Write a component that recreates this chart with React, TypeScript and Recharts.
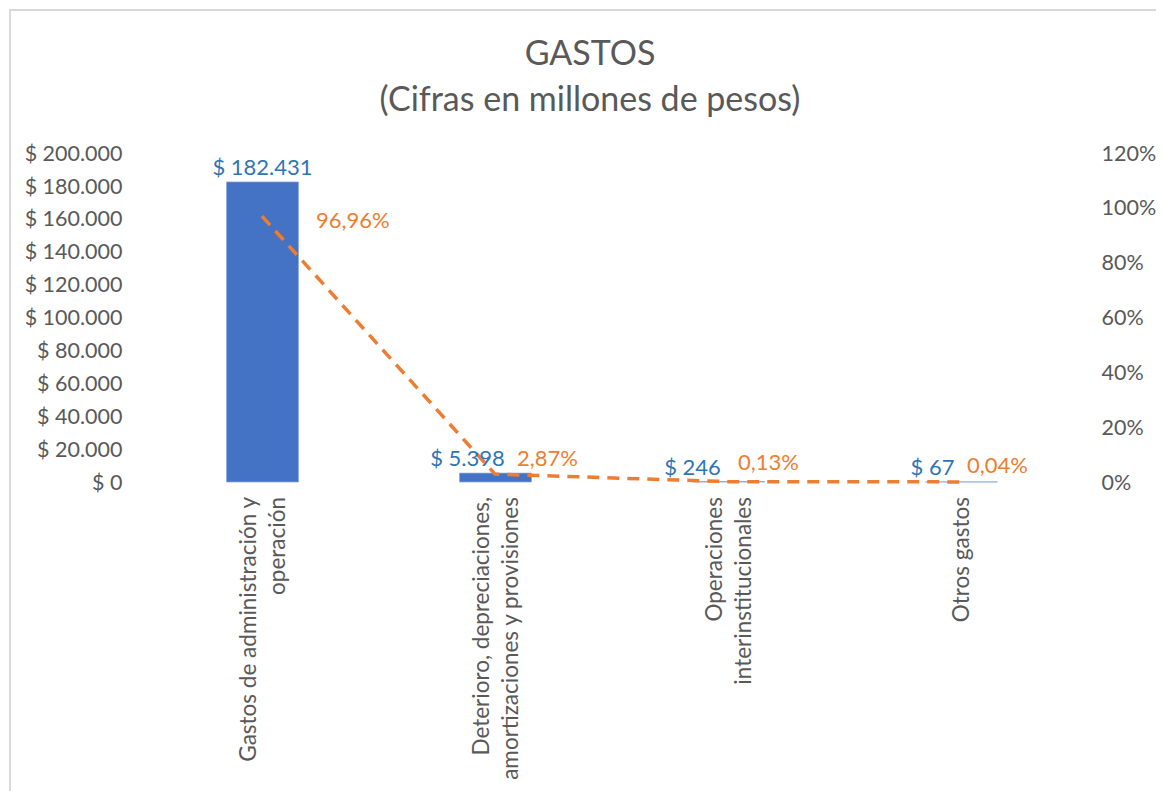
import React from 'react';
import { ComposedChart, Bar, Line, XAxis, YAxis, LabelList } from 'recharts';

const CATEGORIES = [
  'Gastos de administración y\noperación',
  'Deterioro, depreciaciones,\namortizaciones y provisiones',
  'Operaciones\ninterinstitucionales',
  'Otros gastos',
];
const GASTOS = [182431, 5398, 246, 67];
const PARTICIPACION = [96.96, 2.87, 0.13, 0.04];
const LEFT_TICKS = [0, 20000, 40000, 60000, 80000, 100000, 120000, 140000, 160000, 180000, 200000];
const RIGHT_TICKS = [0, 20, 40, 60, 80, 100, 120];

// label nudges (as placed in the original chart)
const BAR_LABEL_DX = [0, -28, -36, -29];
const LINE_LABEL_DX = [54, 22, 10, 6];
const LINE_LABEL_DY = [4, -16, -20, -17];

const data = CATEGORIES.map((c, i) => ({ name: c, gasto: GASTOS[i], pct: PARTICIPACION[i] }));

const FONT = 'Lato, "Open Sans", sans-serif';
const AXIS_COLOR = '#595959';
const BAR_COLOR = '#4472C4';
const LINE_COLOR = '#ED7D31';
const BAR_LABEL_COLOR = '#2E75B6';

const thousands = (n: number) => String(Math.round(n)).replace(/\B(?=(\d{3})+(?!\d))/g, '.');
const money = (n: number) => '$ ' + thousands(n);
const pct = (n: number) => n.toFixed(2).replace('.', ',') + '%';

const CategoryTick = (props: any) => {
  const { x, y, payload } = props;
  const lines = String(payload.value).split('\n');
  const L = 29;
  const y0 = y + 15;
  return (
    <text
      transform={`rotate(-90, ${x}, ${y0})`}
      x={x}
      y={y0}
      textAnchor="end"
      fill={AXIS_COLOR}
      fontSize={22.5}
      fontFamily={FONT}
    >
      {lines.map((ln, i) => (
        <tspan key={i} x={x} dy={i === 0 ? -((lines.length - 1) / 2) * L + 8 : L}>
          {ln}
        </tspan>
      ))}
    </text>
  );
};

const BarLabel = (props: any) => {
  const { x, y, width, value, index } = props;
  const cx = Number(x) + Number(width) / 2 + (BAR_LABEL_DX[index] || 0);
  return (
    <text x={cx} y={Number(y) - 7} textAnchor="middle" fill={BAR_LABEL_COLOR} fontSize={22} fontFamily={FONT}>
      {money(Number(value))}
    </text>
  );
};

const LineLabel = (props: any) => {
  const { x, y, value, index } = props;
  return (
    <text
      x={Number(x) + (LINE_LABEL_DX[index] || 0)}
      y={Number(y) + (LINE_LABEL_DY[index] || 0) + 8}
      textAnchor="start"
      fill={LINE_COLOR}
      fontSize={22}
      fontFamily={FONT}
    >
      {pct(Number(value))}
    </text>
  );
};

export default function App() {
  return (
    <div style={{ position: 'relative', width: 1156, height: 783, overflow: 'hidden', background: '#fff' }}>
      <div
        style={{
          position: 'absolute',
          left: 1,
          top: 1,
          width: 2000,
          height: 2000,
          borderLeft: '2px solid #D9D9D9',
          borderTop: '2px solid #D9D9D9',
        }}
      />
      <div
        style={{
          position: 'absolute',
          left: 0,
          width: 1164,
          top: 21,
          textAlign: 'center',
          fontFamily: FONT,
          fontSize: 34,
          lineHeight: '46px',
          color: AXIS_COLOR,
        }}
      >
        <div>GASTOS</div>
        <div>(Cifras en millones de pesos)</div>
      </div>
      <div style={{ position: 'absolute', left: 0, top: 0 }}>
        <ComposedChart
          width={1156}
          height={783}
          data={data}
          margin={{ top: 145, right: 0, left: 0, bottom: 9 }}
        >
          <XAxis
            dataKey="name"
            xAxisId="x"
            height={300}
            tickLine={false}
            axisLine={false}
            tickSize={0}
            tickMargin={0}
            interval={0}
            tick={<CategoryTick />}
          />
          <YAxis
            yAxisId="left"
            orientation="left"
            width={137.5}
            domain={[0, 200000]}
            ticks={LEFT_TICKS}
            tickFormatter={money}
            tickLine={false}
            axisLine={false}
            tickSize={0}
            tickMargin={23}
            interval={0}
            tick={{ fill: AXIS_COLOR, fontSize: 21.5, fontFamily: FONT }}
          />
          <YAxis
            yAxisId="right"
            orientation="right"
            width={86.5}
            domain={[0, 120]}
            ticks={RIGHT_TICKS}
            tickFormatter={(v: number) => `${v}%`}
            tickLine={false}
            axisLine={false}
            tickSize={0}
            tickMargin={24}
            interval={0}
            tick={{ fill: AXIS_COLOR, fontSize: 21.5, fontFamily: FONT, textAnchor: 'start' }}
          />
          <Bar
            dataKey="gasto"
            xAxisId="x"
            yAxisId="left"
            fill={BAR_COLOR}
            stroke="#8FAADC"
            strokeWidth={0.75}
            barSize={72}
            isAnimationActive={false}
          >
            <LabelList dataKey="gasto" content={<BarLabel />} />
          </Bar>
          <Line
            dataKey="pct"
            xAxisId="x"
            yAxisId="right"
            type="linear"
            stroke={LINE_COLOR}
            strokeWidth={3.5}
            strokeDasharray="12 8"
            dot={false}
            activeDot={false}
            isAnimationActive={false}
          >
            <LabelList dataKey="pct" content={<LineLabel />} />
          </Line>
        </ComposedChart>
      </div>
    </div>
  );
}
